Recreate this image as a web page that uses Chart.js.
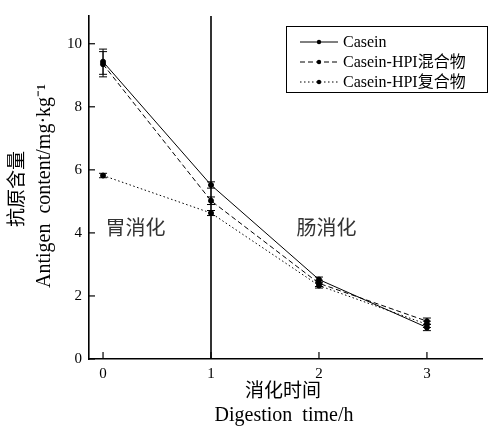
<!DOCTYPE html>
<html>
<head>
<meta charset="utf-8">
<script src="https://cdn.jsdelivr.net/npm/chart.js@4.4.0/dist/chart.umd.min.js"></script>
<style>
  html, body { margin: 0; padding: 0; background: #fff; }
  #wrap { width: 493px; height: 426px; }
</style>
</head>
<body>
<div id="wrap"><canvas id="chart"></canvas></div>
<script>
// data
const times = [0, 1, 2, 3];
const xTicks = [0, 1, 2, 3];
const yTicks = [0, 2, 4, 6, 8, 10];
const seriesNames = ['Casein', 'Casein-HPI混合物', 'Casein-HPI复合物'];
const casein = [9.43, 5.52, 2.52, 1.0];
const caseinErr = [0.4, 0.1, 0.08, 0.1];
const mixture = [9.35, 5.02, 2.4, 1.2];
const mixtureErr = [0.4, 0.12, 0.1, 0.1];
const complex = [5.82, 4.63, 2.33, 1.1];
const complexErr = [0.07, 0.08, 0.08, 0.1];
const stageLabels = ['胃消化', '肠消化'];

const serif = "'Liberation Serif', 'Times New Roman', 'Noto Sans CJK SC', serif";
const cjk = "'Noto Sans CJK SC', sans-serif";

function toPoints(ys) {
    return times.map((t, i) => ({ x: t, y: ys[i] }));
}

const errors = [caseinErr, mixtureErr, complexErr];
const dashes = [[], [5, 3], [1.5, 2.5]];

// error bars, inside ticks, stage divider, labels, legend
const extras = {
    id: 'extras',
    afterDatasetsDraw(chart) {
        const ctx = chart.ctx;
        const xs = chart.scales.x, ys = chart.scales.y;
        const area = chart.chartArea;
        ctx.save();
        ctx.strokeStyle = '#000';
        ctx.fillStyle = '#000';

        // error bars
        ctx.lineWidth = 1;
        ctx.setLineDash([]);
        chart.data.datasets.forEach((ds, di) => {
            ds.data.forEach((p, i) => {
                const e = errors[di][i];
                const px = xs.getPixelForValue(p.x);
                const top = ys.getPixelForValue(p.y + e);
                const bot = ys.getPixelForValue(p.y - e);
                ctx.beginPath();
                ctx.moveTo(px, top); ctx.lineTo(px, bot);
                ctx.moveTo(px - 4, top); ctx.lineTo(px + 4, top);
                ctx.moveTo(px - 4, bot); ctx.lineTo(px + 4, bot);
                ctx.stroke();
            });
        });

        // divider between stomach and intestine stage
        ctx.lineWidth = 1.6;
        const x1 = xs.getPixelForValue(1);
        ctx.beginPath();
        ctx.moveTo(x1, area.top); ctx.lineTo(x1, area.bottom);
        ctx.stroke();

        // inside ticks
        ctx.lineWidth = 1.2;
        xTicks.forEach(v => {
            const px = xs.getPixelForValue(v);
            ctx.beginPath();
            ctx.moveTo(px, area.bottom); ctx.lineTo(px, area.bottom - 7);
            ctx.stroke();
        });
        yTicks.forEach(v => {
            const py = ys.getPixelForValue(v);
            ctx.beginPath();
            ctx.moveTo(area.left, py); ctx.lineTo(area.left + 6, py);
            ctx.stroke();
        });

        // stage labels
        ctx.font = '20px ' + cjk;
        ctx.fillStyle = '#333';
        ctx.textBaseline = 'middle';
        ctx.textAlign = 'center';
        ctx.fillText(stageLabels[0], xs.getPixelForValue(0.3), ys.getPixelForValue(4.18));
        ctx.fillText(stageLabels[1], xs.getPixelForValue(2.07), ys.getPixelForValue(4.18));

        // axis titles
        ctx.fillStyle = '#000';
        ctx.font = '19px ' + cjk;
        ctx.fillText('消化时间', 283, 390);
        ctx.font = '20px ' + serif;
        ctx.fillText('Digestion  time/h', 284, 416);

        ctx.save();
        ctx.translate(16, 189);
        ctx.rotate(-Math.PI / 2);
        ctx.font = '19px ' + cjk;
        ctx.fillText('抗原含量', 0, 0);
        ctx.restore();
        ctx.save();
        ctx.translate(45, 186);
        ctx.rotate(-Math.PI / 2);
        ctx.font = '20px ' + serif;
        ctx.fillText('Antigen  content/mg·kg⁻¹', 0, 0);
        ctx.restore();

        // legend
        const bx = 286, by = 26, bw = 201, bh = 66;
        ctx.lineWidth = 1;
        ctx.strokeRect(bx + 0.5, by + 0.5, bw, bh);
        ctx.textAlign = 'left';
        ctx.font = '16px ' + serif;
        seriesNames.forEach((name, i) => {
            const ly = 42 + i * 20;
            ctx.setLineDash(dashes[i]);
            ctx.beginPath();
            ctx.moveTo(300, ly); ctx.lineTo(338, ly);
            ctx.stroke();
            ctx.setLineDash([]);
            ctx.beginPath();
            ctx.arc(319, ly, 2.2, 0, Math.PI * 2);
            ctx.fill();
            ctx.fillText(name, 343, ly + 1);
        });
        ctx.restore();
    }
};

function makeSet(label, ys, dash) {
    return {
        label: label,
        data: toPoints(ys),
        borderColor: '#000',
        backgroundColor: '#000',
        borderWidth: 1,
        borderDash: dash,
        pointRadius: 2.5,
        pointHoverRadius: 2.5,
        tension: 0
    };
}

new Chart(document.getElementById('chart'), {
    type: 'line',
    data: {
        datasets: [
            makeSet(seriesNames[0], casein, dashes[0]),
            makeSet(seriesNames[1], mixture, dashes[1]),
            makeSet(seriesNames[2], complex, dashes[2])
        ]
    },
    options: {
        responsive: true,
        maintainAspectRatio: false,
        animation: false,
        layout: { padding: { left: 0, right: 11, top: 13, bottom: 0 } },
        plugins: { legend: { display: false }, tooltip: { enabled: false } },
        scales: {
            x: {
                type: 'linear',
                min: -0.13,
                max: 3.51,
                afterBuildTicks: s => { s.ticks = xTicks.map(v => ({ value: v })); },
                afterFit: s => { s.height = 67; },
                grid: { display: false, drawTicks: false },
                border: { display: true, color: '#000', width: 1.6 },
                ticks: { color: '#000', padding: 6, font: { family: serif, size: 15 }, maxRotation: 0 }
            },
            y: {
                type: 'linear',
                min: 0,
                max: 10.88,
                afterBuildTicks: s => { s.ticks = yTicks.map(v => ({ value: v })); },
                afterFit: s => { s.width = 89; },
                grid: { display: false, drawTicks: false },
                border: { display: true, color: '#000', width: 1.6 },
                ticks: { color: '#000', padding: 7, font: { family: serif, size: 15 } }
            }
        }
    },
    plugins: [extras]
});
</script>
</body>
</html>
